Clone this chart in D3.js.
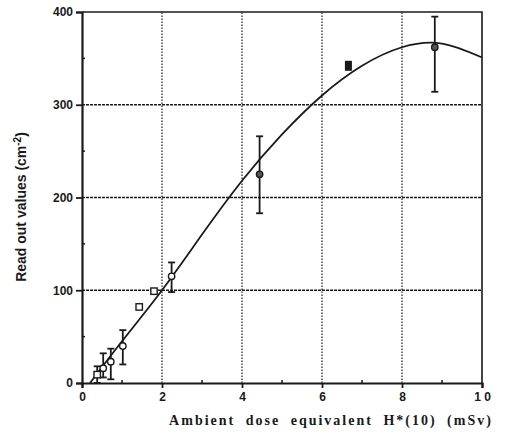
<!DOCTYPE html>
<html>
<head>
<meta charset="utf-8">
<script src="https://cdn.jsdelivr.net/npm/d3@7"></script>
<style>
  body { margin: 0; background: #fff; }
  svg { display: block; }
</style>
</head>
<body>
<svg id="chart" width="508" height="441"></svg>
<script>
var doseX = [0.38, 0.53, 0.72, 1.02, 1.43, 1.8, 2.24, 4.44, 6.66, 8.82];
var readY = [9, 16, 23, 40, 82, 99, 115, 225, 342, 362];
var errLo = [0, 6, 4, 20, null, null, 98, 183, null, 314];
var errHi = [18, 32, 37, 57, null, null, 130, 266, null, 395];
var marker = ["square", "circle", "circle", "circle", "square", "square", "circle", "dot", "block", "dot"];

// fitted curve
var fitX = [0.2, 1, 2, 3, 4, 5, 6, 7, 8, 9, 10];
var fitY = [0, 45, 100, 160, 218, 268, 310, 342, 362, 366, 351];

var xTicks = [0, 2, 4, 6, 8, 10];
var yTicks = [0, 100, 200, 300, 400];

var width = 508, height = 441;
var margin = { top: 12, right: 26, bottom: 58, left: 82 };

var svg = d3.select("#chart");
var ink = "#1a1a1a";

var x = d3.scaleLinear().domain([0, 10]).range([margin.left, width - margin.right]);
var y = d3.scaleLinear().domain([0, 400]).range([height - margin.bottom, margin.top]);

// grid
svg.append("g")
    .selectAll("line")
    .data(xTicks.filter(d => d > 0 && d < 10))
    .join("line")
    .attr("x1", d => x(d)).attr("x2", d => x(d))
    .attr("y1", y(0)).attr("y2", y(400))
    .attr("stroke", ink).attr("stroke-width", 1.2)
    .attr("stroke-dasharray", "1.5,1.5");

svg.append("g")
    .selectAll("line")
    .data(yTicks.filter(d => d > 0 && d < 400))
    .join("line")
    .attr("x1", x(0)).attr("x2", x(10))
    .attr("y1", d => y(d)).attr("y2", d => y(d))
    .attr("stroke", ink).attr("stroke-width", 1.4)
    .attr("stroke-dasharray", "3,1");

// frame top / right
svg.append("path")
    .attr("d", `M${x(0)},${y(400)}H${x(10)}V${y(0)}`)
    .attr("fill", "none").attr("stroke", ink).attr("stroke-width", 1.6);

// axes
var xAxis = g => g
    .attr("transform", `translate(0,${y(0)})`)
    .call(d3.axisBottom(x).tickValues(xTicks).tickSize(5).tickPadding(4)
        .tickFormat(d => d === 10 ? "1 0" : d))
    .call(g => g.select(".domain").attr("stroke-width", 2.2).attr("stroke", ink))
    .call(g => g.selectAll(".tick line").attr("stroke-width", 1.8).attr("stroke", ink))
    .call(g => g.selectAll(".tick text")
        .attr("font-family", "Liberation Sans, Arial, sans-serif")
        .attr("font-weight", "bold")
        .attr("font-size", "12px")
        .attr("fill", ink));

var yAxis = g => g
    .attr("transform", `translate(${x(0)},0)`)
    .call(d3.axisLeft(y).tickValues(yTicks).tickSize(6).tickPadding(3))
    .call(g => g.select(".domain").attr("stroke-width", 2.2).attr("stroke", ink))
    .call(g => g.selectAll(".tick line").attr("stroke-width", 1.8).attr("stroke", ink))
    .call(g => g.selectAll(".tick text")
        .attr("font-family", "Liberation Sans, Arial, sans-serif")
        .attr("font-weight", "bold")
        .attr("font-size", "12px")
        .attr("fill", ink));

svg.append("g").call(xAxis);
svg.append("g").call(yAxis);

// minor ticks pointing inward
svg.append("g")
    .selectAll("line")
    .data([1, 3, 5, 7, 9])
    .join("line")
    .attr("x1", d => x(d)).attr("x2", d => x(d))
    .attr("y1", y(0)).attr("y2", y(0) - 3)
    .attr("stroke", ink).attr("stroke-width", 1.5);

svg.append("g")
    .selectAll("line")
    .data([50, 150, 250, 350])
    .join("line")
    .attr("x1", x(0)).attr("x2", x(0) + 3)
    .attr("y1", d => y(d)).attr("y2", d => y(d))
    .attr("stroke", ink).attr("stroke-width", 1.5);

// fitted curve
svg.append("path")
    .datum(fitX.map((d, i) => [d, fitY[i]]))
    .attr("d", d3.line().x(d => x(d[0])).y(d => y(d[1])).curve(d3.curveNatural))
    .attr("fill", "none")
    .attr("stroke", ink)
    .attr("stroke-width", 1.8);

// error bars
var pts = doseX.map((d, i) => ({ x: d, y: readY[i], lo: errLo[i], hi: errHi[i], m: marker[i] }));
var withErr = pts.filter(d => d.lo !== null);

var eb = svg.append("g").attr("stroke", ink).attr("stroke-width", 1.8);
eb.selectAll("line.bar")
    .data(withErr)
    .join("line")
    .attr("class", "bar")
    .attr("x1", d => x(d.x)).attr("x2", d => x(d.x))
    .attr("y1", d => y(d.lo)).attr("y2", d => y(d.hi));
eb.selectAll("line.capHi")
    .data(withErr)
    .join("line")
    .attr("class", "capHi")
    .attr("x1", d => x(d.x) - 3.5).attr("x2", d => x(d.x) + 3.5)
    .attr("y1", d => y(d.hi)).attr("y2", d => y(d.hi));
eb.selectAll("line.capLo")
    .data(withErr)
    .join("line")
    .attr("class", "capLo")
    .attr("x1", d => x(d.x) - 3.5).attr("x2", d => x(d.x) + 3.5)
    .attr("y1", d => y(d.lo)).attr("y2", d => y(d.lo));

// markers
var mk = svg.append("g");
mk.selectAll("circle")
    .data(pts.filter(d => d.m === "circle" || d.m === "dot"))
    .join("circle")
    .attr("cx", d => x(d.x)).attr("cy", d => y(d.y))
    .attr("r", 3.2)
    .attr("fill", d => d.m === "dot" ? "#555" : "#fff")
    .attr("stroke", ink).attr("stroke-width", 1.4);

mk.selectAll("rect.sq")
    .data(pts.filter(d => d.m === "square"))
    .join("rect")
    .attr("class", "sq")
    .attr("x", d => x(d.x) - 3.2).attr("y", d => y(d.y) - 3.2)
    .attr("width", 6.4).attr("height", 6.4)
    .attr("fill", "#fff")
    .attr("stroke", ink).attr("stroke-width", 1.4);

mk.selectAll("rect.blk")
    .data(pts.filter(d => d.m === "block"))
    .join("rect")
    .attr("class", "blk")
    .attr("x", d => x(d.x) - 3.5).attr("y", d => y(d.y) - 5)
    .attr("width", 7).attr("height", 10)
    .attr("fill", ink);

// axis titles
svg.append("text")
    .attr("x", 331)
    .attr("y", 425)
    .attr("text-anchor", "middle")
    .attr("font-family", "Liberation Serif, Times New Roman, serif")
    .attr("font-weight", "bold")
    .attr("font-size", "14px")
    .attr("letter-spacing", "2px")
    .attr("word-spacing", "5px")
    .attr("fill", ink)
    .text("Ambient dose equivalent H*(10) (mSv)");

var yl = svg.append("text")
    .attr("transform", "translate(26,207) rotate(-90)")
    .attr("text-anchor", "middle")
    .attr("font-family", "Liberation Sans, Arial, sans-serif")
    .attr("font-weight", "bold")
    .attr("font-size", "14px")
    .attr("fill", ink);
yl.append("tspan").text("Read out values (cm");
yl.append("tspan").attr("dy", -5).attr("font-size", "10px").text("-2");
yl.append("tspan").attr("dy", 5).text(")");
</script>
</body>
</html>
